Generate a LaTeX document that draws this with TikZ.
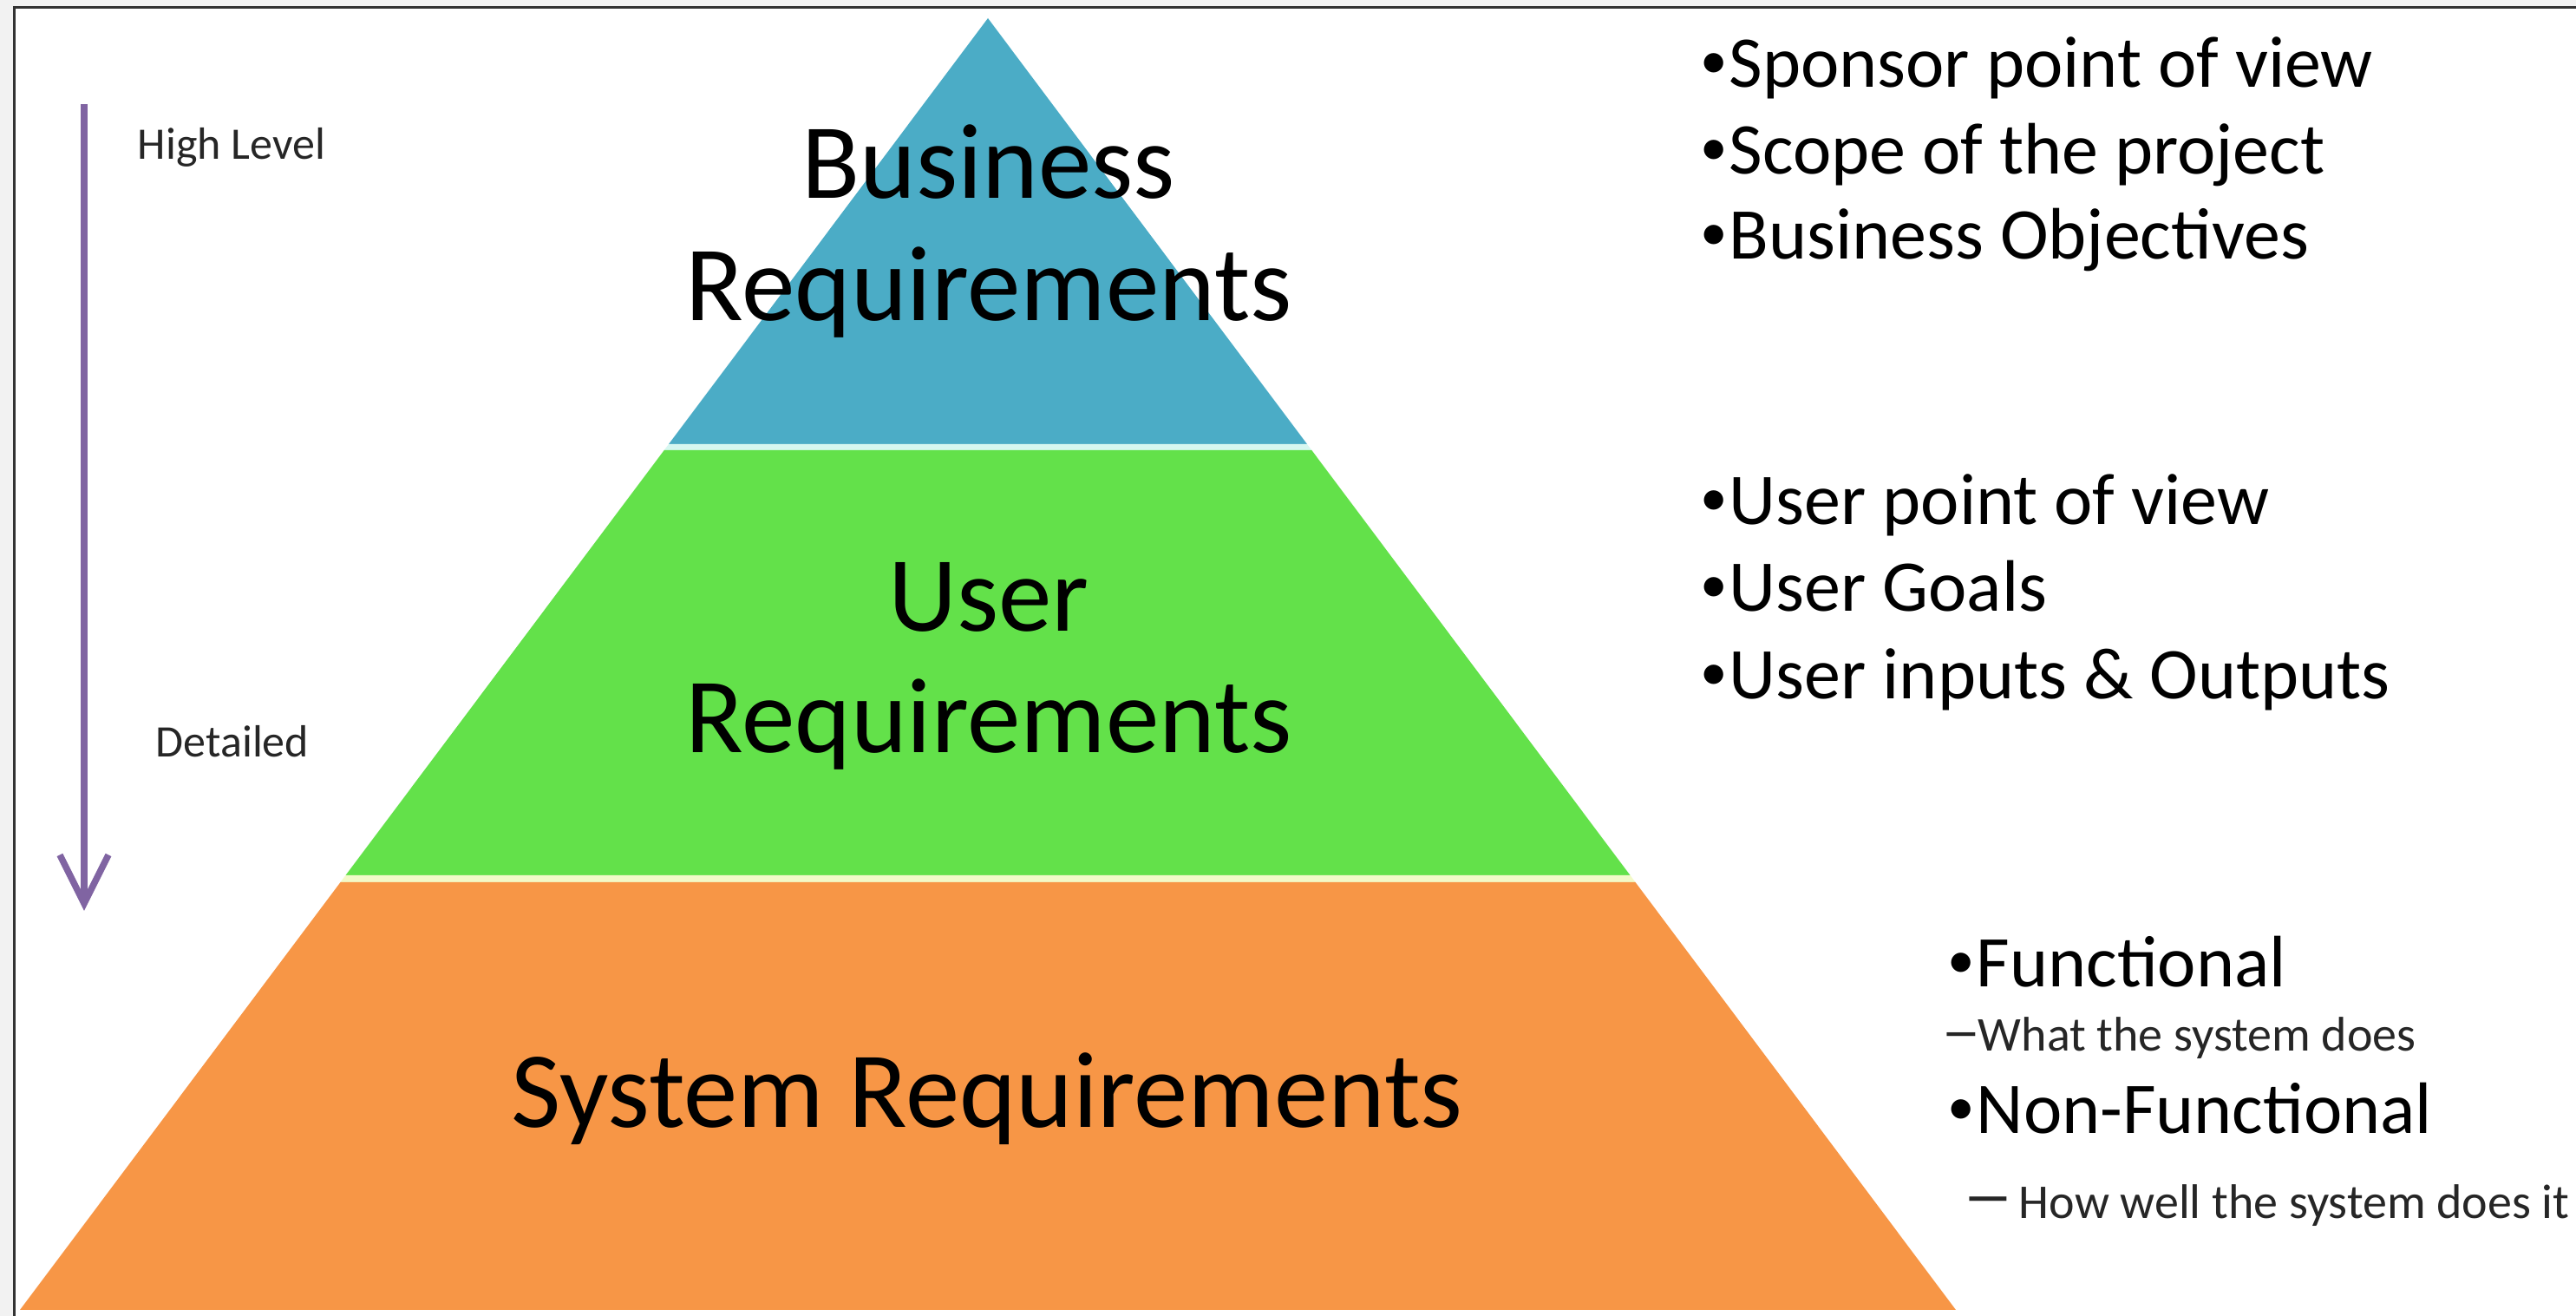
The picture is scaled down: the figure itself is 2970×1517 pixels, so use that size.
\documentclass[tikz,border=0pt]{standalone}
\usepackage{fontspec}
\setmainfont{Carlito}
\usetikzlibrary{arrows.meta}
\definecolor{bizblue}{HTML}{4BACC6}
\definecolor{usergreen}{HTML}{63E14A}
\definecolor{sysorange}{HTML}{F79646}
\definecolor{arrowpurple}{HTML}{8064A2}
\definecolor{pagegrey}{HTML}{F2F2F2}
\definecolor{framegrey}{HTML}{333333}
\definecolor{gapcyan}{HTML}{D6F7F0}
\definecolor{gapyellow}{HTML}{F3FAC8}
\newcommand\mybul{\makebox[7pt][l]{\makebox[5pt][c]{\raisebox{2.5pt}{\scalebox{0.75}{•}}}}}
\begin{document}
\begin{tikzpicture}[x=0.25pt,y=-0.25pt,
  headtxt/.style={font=\fontsize{30.8pt}{36pt}\selectfont, anchor=base, inner sep=0pt, text=black},
  bultxt/.style={font=\fontsize{21pt}{24pt}\selectfont, anchor=base west, inner sep=0pt, text=black},
  subtxt/.style={font=\fontsize{14pt}{17pt}\selectfont, anchor=base west, inner sep=0pt, text=black!85},
  lvltxt/.style={font=\fontsize{13pt}{16pt}\selectfont, anchor=base west, inner sep=0pt, text=black!85},
  levelarrow/.style={draw=arrowpurple, line width=1.9pt, -{Straight Barb[length=14pt,width=14pt]}},
]
\useasboundingbox (0,0) rectangle (2970,1517);
% page and frame
\fill[pagegrey] (0,0) rectangle (2970,1517);
\fill[white] (16,9) rectangle (2970,1517);
\draw[framegrey, line width=0.75pt] (16,1517) -- (16,9) -- (2970,9);
% pyramid bands
\fill[bizblue] (1139,21) -- (1507,512) -- (771,512) -- cycle;
\fill[gapcyan] (771,512) -- (1507,512) -- (1512.3,519) -- (765.7,519) -- cycle;
\fill[usergreen] (765.7,519) -- (1512.3,519) -- (1879.5,1009) -- (398.5,1009) -- cycle;
\fill[gapyellow] (398.5,1009) -- (1879.5,1009) -- (1885.5,1017) -- (392.5,1017) -- cycle;
\fill[sysorange] (392.5,1017) -- (1885.5,1017) -- (2255,1510) -- (23,1510) -- cycle;
% band titles
\node[headtxt] (bizA) at (1140,229) {Business};
\node[headtxt] (bizB) at (1140,370) {Requirements};
\node[headtxt] (usrA) at (1140,728) {User};
\node[headtxt] (usrB) at (1140,868) {Requirements};
\node[headtxt, font=\fontsize{31.2pt}{36pt}\selectfont] (sys) at (1138,1300) {System Requirements};
% level arrow
\node[lvltxt] (high) at (158,184) {High Level};
\node[lvltxt] (detail) at (179,873) {Detailed};
\coordinate (arrS) at (97,120);
\coordinate (arrE) at (97,1050);
\draw[levelarrow] (arrS) -- (arrE);
% right-hand notes
\node[bultxt] (b1) at (1965,101) {\mybul Sponsor point of view};
\node[bultxt] (b2) at (1965,201) {\mybul Scope of the project};
\node[bultxt] (b3) at (1965,299) {\mybul Business Objectives};
\node[bultxt] (u1) at (1965,605) {\mybul User point of view};
\node[bultxt] (u2) at (1965,705) {\mybul User Goals};
\node[bultxt] (u3) at (1965,806) {\mybul User inputs \& Outputs};
\node[bultxt] (f1) at (2250,1138) {\mybul Functional};
\node[subtxt] (f1s) at (2238,1212) {\makebox[10.5pt][l]{\fontsize{17pt}{17pt}\selectfont\scalebox{1.35}[1]{–}}What the system does};
\node[bultxt] (f2) at (2250,1307) {\mybul Non-Functional};
\node[subtxt] (f2s) at (2262,1405) {\makebox[16.25pt][l]{\fontsize{20pt}{20pt}\selectfont\scalebox{1.5}[1]{–}}How well the system does it};
\end{tikzpicture}
\end{document}
